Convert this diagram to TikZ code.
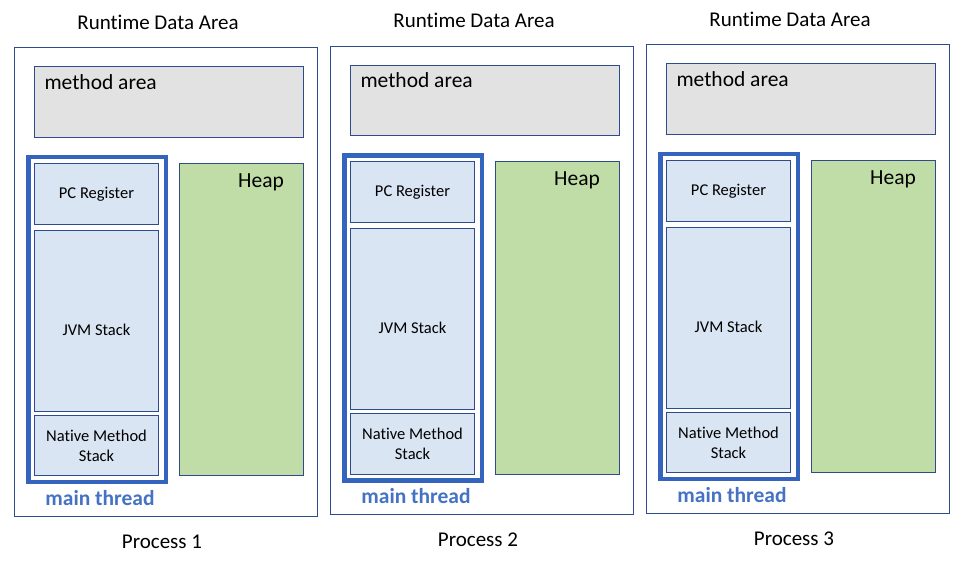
\documentclass[tikz,border=0pt]{standalone}
\usepackage{fontspec}
\setmainfont[Ligatures=NoCommon]{Carlito}
\definecolor{edgeblue}{HTML}{2F4B8C}
\definecolor{threadblue}{HTML}{3464BE}
\definecolor{textblue}{HTML}{4472C4}
\definecolor{areagray}{HTML}{E2E2E2}
\definecolor{regfill}{HTML}{DAE5F4}
\definecolor{heapfill}{HTML}{C0DDA8}
\tikzset{
  procbox/.style={draw=edgeblue, line width=1pt, anchor=north west, inner sep=0pt, outer sep=0pt},
  methodbox/.style={draw=edgeblue, fill=areagray, line width=1pt, anchor=north west, inner sep=0pt, outer sep=0pt},
  threadbox/.style={draw=threadblue, line width=4.5pt, anchor=north west, inner sep=0pt, outer sep=0pt},
  regbox/.style={draw=edgeblue, fill=regfill, line width=1pt, anchor=north west, inner sep=0pt, outer sep=0pt, align=center, font=\fontsize{16.5}{20}\selectfont},
  heapbox/.style={draw=edgeblue, fill=heapfill, line width=1pt, anchor=north west, inner sep=0pt, outer sep=0pt},
  regtext/.style={inner sep=0pt, font=\fontsize{16.5}{20}\selectfont},
  bigtext/.style={inner sep=0pt, font=\fontsize{21}{25}\selectfont},
  areatext/.style={inner sep=0pt, font=\fontsize{21.5}{25}\selectfont},
  threadtext/.style={inner sep=0pt, text=textblue, font=\fontsize{21.5}{25}\selectfont\bfseries}
}
\begin{document}
\begin{tikzpicture}[x=1pt, y=-1pt]
\useasboundingbox (0,0) rectangle (966,562);
\node[bigtext] (rda1) at (158,22) {Runtime Data Area};
\node[procbox, minimum width=303.4pt, minimum height=468.6pt] (proc1) at (14.3,47.7) {};
\node[methodbox, minimum width=269pt, minimum height=70.3pt] (ma1) at (34.3,66.7) {};
\node[areatext, anchor=north west] (matxt1) at (44.3,74) {method area};
\node[threadbox, minimum width=137.5pt, minimum height=325pt] (mt1) at (28.5,157) {};
\node[regbox, minimum width=124.4pt, minimum height=61pt] (pc1) at (34.3,163.3) {PC Register};
\node[regbox, minimum width=124.4pt, minimum height=181pt] (jvm1) at (34.3,230.3) {};
\node[regtext] (jvmtxt1) at (96.5,329.5) {JVM Stack};
\node[regbox, minimum width=124.4pt, minimum height=60.7pt] (nms1) at (34.3,415) {Native Method\\Stack};
\node[heapbox, minimum width=124.4pt, minimum height=312.4pt] (heap1) at (179.3,163.3) {};
\node[areatext] (heaptxt1) at (261,182) {Heap};
\node[threadtext] (mtxt1) at (100,498) {main thread};
\node[bigtext] (plabel1) at (162,541.5) {Process 1};
\begin{scope}[shift={(316,-1.5)}]
\node[bigtext] (rda2) at (158,22) {Runtime Data Area};
\node[procbox, minimum width=303.4pt, minimum height=468.6pt] (proc2) at (14.3,47.7) {};
\node[methodbox, minimum width=269pt, minimum height=70.3pt] (ma2) at (34.3,66.7) {};
\node[areatext, anchor=north west] (matxt2) at (44.3,74) {method area};
\node[threadbox, minimum width=137.5pt, minimum height=325pt] (mt2) at (28.5,157) {};
\node[regbox, minimum width=124.4pt, minimum height=61pt] (pc2) at (34.3,163.3) {PC Register};
\node[regbox, minimum width=124.4pt, minimum height=181pt] (jvm2) at (34.3,230.3) {};
\node[regtext] (jvmtxt2) at (96.5,329.5) {JVM Stack};
\node[regbox, minimum width=124.4pt, minimum height=60.7pt] (nms2) at (34.3,415) {Native Method\\Stack};
\node[heapbox, minimum width=124.4pt, minimum height=312.4pt] (heap2) at (179.3,163.3) {};
\node[areatext] (heaptxt2) at (261,182) {Heap};
\node[threadtext] (mtxt2) at (100,498) {main thread};
\node[bigtext] (plabel2) at (162,541.5) {Process 2};
\end{scope}
\begin{scope}[shift={(632,-3)}]
\node[bigtext] (rda3) at (158,22) {Runtime Data Area};
\node[procbox, minimum width=303.4pt, minimum height=468.6pt] (proc3) at (14.3,47.7) {};
\node[methodbox, minimum width=269pt, minimum height=70.3pt] (ma3) at (34.3,66.7) {};
\node[areatext, anchor=north west] (matxt3) at (44.3,74) {method area};
\node[threadbox, minimum width=137.5pt, minimum height=325pt] (mt3) at (28.5,157) {};
\node[regbox, minimum width=124.4pt, minimum height=61pt] (pc3) at (34.3,163.3) {PC Register};
\node[regbox, minimum width=124.4pt, minimum height=181pt] (jvm3) at (34.3,230.3) {};
\node[regtext] (jvmtxt3) at (96.5,329.5) {JVM Stack};
\node[regbox, minimum width=124.4pt, minimum height=60.7pt] (nms3) at (34.3,415) {Native Method\\Stack};
\node[heapbox, minimum width=124.4pt, minimum height=312.4pt] (heap3) at (179.3,163.3) {};
\node[areatext] (heaptxt3) at (261,182) {Heap};
\node[threadtext] (mtxt3) at (100,498) {main thread};
\node[bigtext] (plabel3) at (162,541.5) {Process 3};
\end{scope}
\end{tikzpicture}
\end{document}
